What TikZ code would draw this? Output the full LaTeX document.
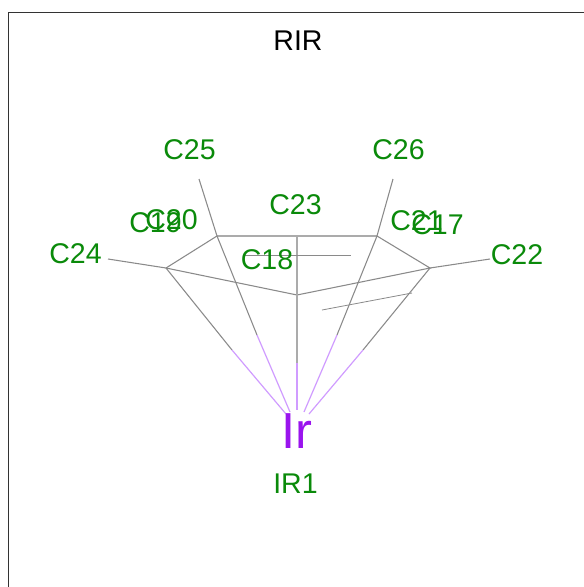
\documentclass[tikz,border=0pt]{standalone}
\usepackage{fontspec}
\setmainfont{Liberation Sans}
\definecolor{labgreen}{HTML}{0A8A0A}
\definecolor{bondgrey}{HTML}{8A8A8A}
\definecolor{vgrey}{HTML}{ABABAB}
\definecolor{bondpurple}{HTML}{D09CFF}
\definecolor{irpurple}{HTML}{9A14EE}
\tikzset{
  lab/.style={text=labgreen,font=\fontsize{21.4}{24}\selectfont,anchor=base,inner sep=0pt},
  titlelab/.style={text=black,font=\fontsize{21.4}{24}\selectfont,anchor=base,inner sep=0pt},
  irlab/.style={text=irpurple,font=\fontsize{38}{42}\selectfont,anchor=base,inner sep=0pt},
  bond/.style={draw=bondgrey,line width=0.8pt},
  thinbond/.style={draw=bondgrey,line width=0.6pt},
  vbond/.style={draw=vgrey,line width=0.8pt},
  metalbond/.style={draw=bondpurple,line width=0.9pt},
  frameline/.style={draw=black!80,line width=1pt}
}
\begin{document}
\begin{tikzpicture}[x=0.75pt,y=-0.75pt]
\useasboundingbox (0,0) rectangle (584,587);
% frame
\coordinate (fbl) at (8.5,587);
\coordinate (ftl) at (8.5,12.5);
\coordinate (ftr) at (584,12.5);
\draw[frameline] (fbl) -- (ftl) -- (ftr);
% atoms
\coordinate (a24) at (166,268);
\coordinate (a25) at (217,236);
\coordinate (a26) at (377,236);
\coordinate (a22) at (430,268);
\coordinate (a23) at (297,295);
\coordinate (top) at (297,236);
\coordinate (irc) at (297,432);
% substituent tips
\coordinate (t24) at (108,259);
\coordinate (t25) at (199,179);
\coordinate (t26) at (393,179);
\coordinate (t22) at (490,259);
% hidden bonds
\coordinate (h18a) at (243,255);
\coordinate (h18b) at (351,255);
\coordinate (h17a) at (322,310);
\coordinate (h17b) at (412,293);
% bond ends at iridium
\coordinate (e1) at (286,414);
\coordinate (e2) at (290,412);
\coordinate (e3) at (297,410);
\coordinate (e4) at (304,412);
\coordinate (e5) at (309,414);
% midpoints of the metal bonds
\coordinate (m1) at (232,350);
\coordinate (m2) at (257,335);
\coordinate (m3) at (297,363);
\coordinate (m4) at (337,335);
\coordinate (m5) at (363,350);
% ring and substituents
\draw[bond] (a24) -- (a25);
\draw[vbond] (a25) -- (top) -- (a26);
\draw[bond] (a26) -- (a22) -- (a23) -- (a24);
\draw[vbond] (a23) -- (top);
\draw[bond] (a24) -- (t24);
\draw[bond] (a25) -- (t25);
\draw[bond] (a26) -- (t26);
\draw[bond] (a22) -- (t22);
\draw[thinbond] (h18a) -- (h18b);
\draw[thinbond] (h17a) -- (h17b);
% metal bonds
\draw[bond] (a24) -- (m1);
\draw[bond] (a25) -- (m2);
\draw[vbond] (a23) -- (m3);
\draw[bond] (a26) -- (m4);
\draw[bond] (a22) -- (m5);
\draw[metalbond] (m1) -- (e1);
\draw[metalbond] (m2) -- (e2);
\draw[metalbond] (m3) -- (e3);
\draw[metalbond] (m4) -- (e4);
\draw[metalbond] (m5) -- (e5);
% labels
\node[titlelab] (title) at (298,50) {RIR};
\node[lab] (c25) at (189.5,159) {C25};
\node[lab] (c26) at (398.5,159) {C26};
\node[lab] (c23) at (295.5,214) {C23};
\node[lab] (c19) at (155.5,232) {C19};
\node[lab] (c20) at (171.5,229) {C20};
\node[lab] (c21) at (416.5,230) {C21};
\node[lab] (c17) at (437.5,234) {C17};
\node[lab] (c18) at (267,269) {C18};
\node[lab] (c24) at (75.5,263) {C24};
\node[lab] (c22) at (517,264) {C22};
\node[lab] (ir1) at (295.5,493) {IR1};
\node[irlab] (ir) at (297,448) {Ir};
\end{tikzpicture}
\end{document}
